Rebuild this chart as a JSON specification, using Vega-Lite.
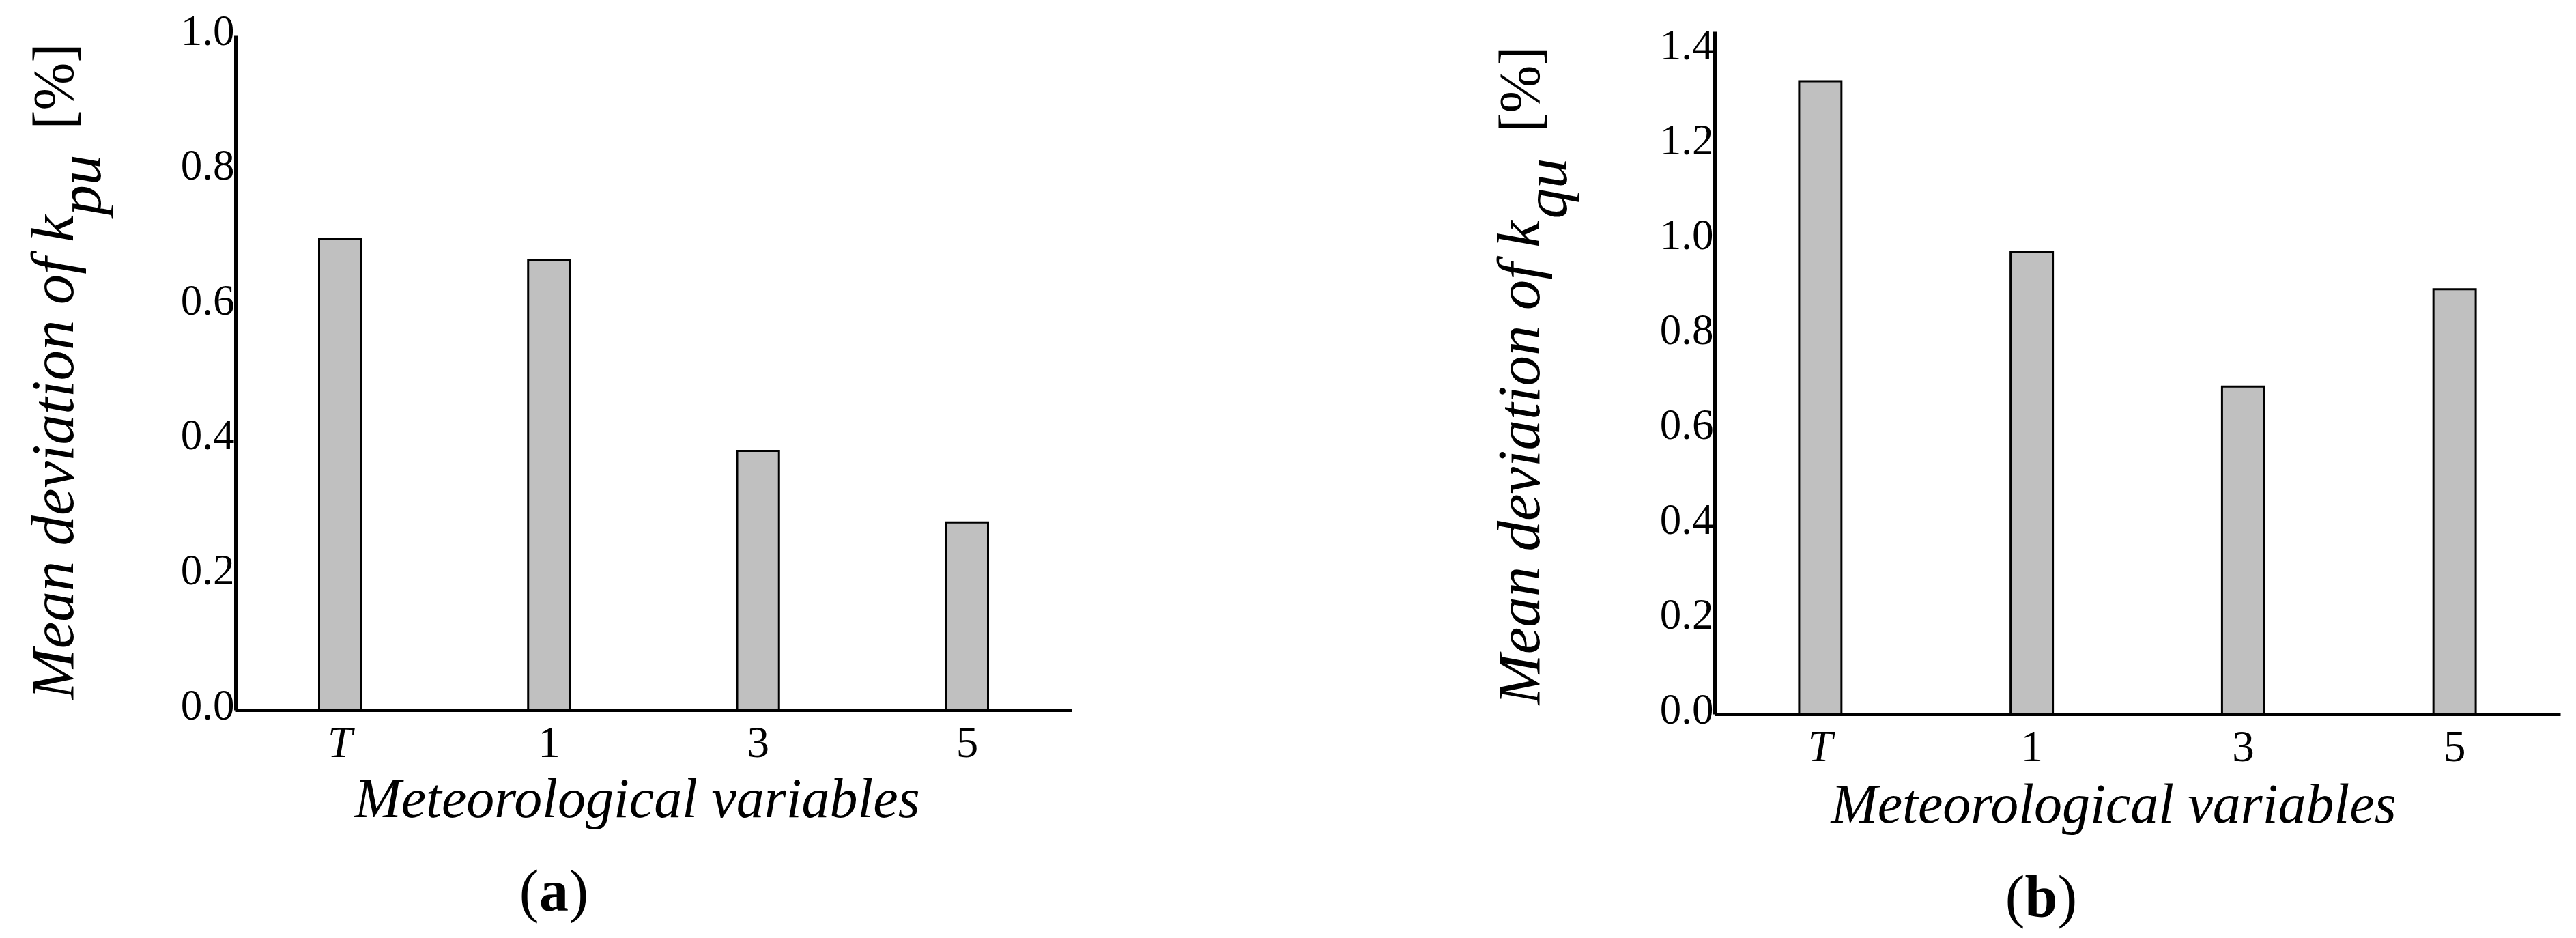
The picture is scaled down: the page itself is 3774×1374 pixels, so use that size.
{
  "$schema": "https://vega.github.io/schema/vega-lite/v6.json",
  "padding": {"left": 34, "top": 15, "right": 10, "bottom": 10},
  "autosize": {"type": "pad"},
  "background": "white",
  "datasets": {
    "a": [
      {"var": "T", "value": 0.699},
      {"var": "1", "value": 0.667},
      {"var": "3", "value": 0.384},
      {"var": "5", "value": 0.278}
    ],
    "b": [
      {"var": "T", "value": 1.335},
      {"var": "1", "value": 0.975},
      {"var": "3", "value": 0.691},
      {"var": "5", "value": 0.896}
    ]
  },
  "hconcat": [
    {
      "width": 1225,
      "height": 988,
      "data": {"name": "a"},
      "layer": [
        {
          "mark": {"type": "bar", "fill": "#c0c0c0", "stroke": "black", "strokeWidth": 3},
          "encoding": {
            "x": {"field": "var", "type": "nominal", "sort": null, "scale": {"paddingInner": 0.8, "paddingOuter": 0.4},
              "axis": {"orient": "bottom", "ticks": false, "tickSize": 0, "labelPadding": 68, "labelBaseline": "alphabetic", "labelAngle": 0,
                "labelFont": "Liberation Serif", "labelFontSize": 65, "labelColor": "black",
                "labelFontStyle": {"condition": {"test": "datum.value === 'T'", "value": "italic"}, "value": "normal"},
                "domainColor": "black", "domainWidth": 5, "grid": false,
                "title": "Meteorological variables", "titleFont": "Liberation Serif", "titleFontStyle": "italic", "titleFontWeight": "normal",
                "titleFontSize": 82, "titleColor": "black", "titleAngle": 0, "titleAlign": "center", "titleBaseline": "alphabetic", "titleX": 588, "titleY": 156}},
            "y": {"field": "value", "type": "quantitative", "scale": {"domain": [0, 1], "nice": false},
              "axis": {"orient": "left", "values": [0, 0.2, 0.4, 0.6, 0.8, 1.0], "format": ".1f", "ticks": false, "tickSize": 0, "labelPadding": 2,
                "labelFont": "Liberation Serif", "labelFontSize": 63, "labelColor": "black", "labelBaseline": "alphabetic", "labelOffset": 13,
                "domainColor": "black", "domainWidth": 5, "grid": false,
                "title": "Mean deviation of k", "titleFont": "Liberation Serif", "titleFontStyle": "italic", "titleFontWeight": "normal",
                "titleFontSize": 89, "titleColor": "black", "titleAngle": 270, "titleAlign": "left", "titleBaseline": "alphabetic", "titleX": -239, "titleY": 972}}
          }
        },
        {
          "mark": {"type": "bar", "opacity": 0},
          "encoding": {
            "x": {"field": "var", "type": "nominal", "sort": null,
              "axis": {"orient": "bottom", "labels": false, "ticks": false, "domain": false, "grid": false,
                "title": "(", "titleFont": "Liberation Serif", "titleFontWeight": "normal", "titleFontSize": 86, "titleColor": "black",
                "titleAngle": 0, "titleAlign": "right", "titleBaseline": "alphabetic", "titleX": 444, "titleY": 293}},
            "y": {"field": "value", "type": "quantitative",
              "axis": {"orient": "left", "labels": false, "ticks": false, "domain": false, "grid": false,
                "title": "pu", "titleFont": "Liberation Serif", "titleFontStyle": "italic", "titleFontWeight": "normal",
                "titleFontSize": 89, "titleColor": "black", "titleAngle": 270, "titleAlign": "left", "titleBaseline": "alphabetic", "titleX": -199, "titleY": 263}}
          }
        },
        {
          "mark": {"type": "bar", "opacity": 0},
          "encoding": {
            "x": {"field": "var", "type": "nominal", "sort": null,
              "axis": {"orient": "bottom", "labels": false, "ticks": false, "domain": false, "grid": false,
                "title": "a", "titleFont": "Liberation Serif", "titleFontWeight": "bold", "titleFontSize": 86, "titleColor": "black",
                "titleAngle": 0, "titleAlign": "center", "titleBaseline": "alphabetic", "titleX": 466, "titleY": 293}},
            "y": {"field": "value", "type": "quantitative",
              "axis": {"orient": "left", "labels": false, "ticks": false, "domain": false, "grid": false,
                "title": "[%]", "titleFont": "Liberation Serif", "titleFontStyle": "normal", "titleFontWeight": "normal",
                "titleFontSize": 84, "titleColor": "black", "titleAngle": 270, "titleAlign": "left", "titleBaseline": "alphabetic", "titleX": -239, "titleY": 137}}
          }
        },
        {
          "mark": {"type": "bar", "opacity": 0},
          "encoding": {
            "x": {"field": "var", "type": "nominal", "sort": null,
              "axis": {"orient": "bottom", "labels": false, "ticks": false, "domain": false, "grid": false,
                "title": ")", "titleFont": "Liberation Serif", "titleFontWeight": "normal", "titleFontSize": 86, "titleColor": "black",
                "titleAngle": 0, "titleAlign": "left", "titleBaseline": "alphabetic", "titleX": 488, "titleY": 293}},
            "y": {"field": "value", "type": "quantitative", "axis": null}
          }
        }
      ],
      "resolve": {"axis": {"x": "independent", "y": "independent"}}
    },
    {
      "width": 1239,
      "height": 1000,
      "data": {"name": "b"},
      "layer": [
        {
          "mark": {"type": "bar", "fill": "#c0c0c0", "stroke": "black", "strokeWidth": 3},
          "encoding": {
            "x": {"field": "var", "type": "nominal", "sort": null, "scale": {"paddingInner": 0.8, "paddingOuter": 0.4},
              "axis": {"orient": "bottom", "ticks": false, "tickSize": 0, "labelPadding": 68, "labelBaseline": "alphabetic", "labelAngle": 0,
                "labelFont": "Liberation Serif", "labelFontSize": 65, "labelColor": "black",
                "labelFontStyle": {"condition": {"test": "datum.value === 'T'", "value": "italic"}, "value": "normal"},
                "domainColor": "black", "domainWidth": 5, "grid": false,
                "title": "Meteorological variables", "titleFont": "Liberation Serif", "titleFontStyle": "italic", "titleFontWeight": "normal",
                "titleFontSize": 82, "titleColor": "black", "titleAngle": 0, "titleAlign": "center", "titleBaseline": "alphabetic", "titleX": 584, "titleY": 158}},
            "y": {"field": "value", "type": "quantitative", "scale": {"domain": [0, 1.44], "nice": false},
              "axis": {"orient": "left", "values": [0, 0.2, 0.4, 0.6, 0.8, 1.0, 1.2, 1.4], "format": ".1f", "ticks": false, "tickSize": 0, "labelPadding": 2,
                "labelFont": "Liberation Serif", "labelFontSize": 63, "labelColor": "black", "labelBaseline": "alphabetic", "labelOffset": 13,
                "domainColor": "black", "domainWidth": 5, "grid": false,
                "title": "Mean deviation of k", "titleFont": "Liberation Serif", "titleFontStyle": "italic", "titleFontWeight": "normal",
                "titleFontSize": 89, "titleColor": "black", "titleAngle": 270, "titleAlign": "left", "titleBaseline": "alphabetic", "titleX": -258, "titleY": 986}}
          }
        },
        {
          "mark": {"type": "bar", "opacity": 0},
          "encoding": {
            "x": {"field": "var", "type": "nominal", "sort": null,
              "axis": {"orient": "bottom", "labels": false, "ticks": false, "domain": false, "grid": false,
                "title": "(", "titleFont": "Liberation Serif", "titleFontWeight": "normal", "titleFontSize": 86, "titleColor": "black",
                "titleAngle": 0, "titleAlign": "right", "titleBaseline": "alphabetic", "titleX": 454, "titleY": 295}},
            "y": {"field": "value", "type": "quantitative",
              "axis": {"orient": "left", "labels": false, "ticks": false, "domain": false, "grid": false,
                "title": "qu", "titleFont": "Liberation Serif", "titleFontStyle": "italic", "titleFontWeight": "normal",
                "titleFontSize": 89, "titleColor": "black", "titleAngle": 270, "titleAlign": "left", "titleBaseline": "alphabetic", "titleX": -218, "titleY": 274}}
          }
        },
        {
          "mark": {"type": "bar", "opacity": 0},
          "encoding": {
            "x": {"field": "var", "type": "nominal", "sort": null,
              "axis": {"orient": "bottom", "labels": false, "ticks": false, "domain": false, "grid": false,
                "title": "b", "titleFont": "Liberation Serif", "titleFontWeight": "bold", "titleFontSize": 86, "titleColor": "black",
                "titleAngle": 0, "titleAlign": "center", "titleBaseline": "alphabetic", "titleX": 478, "titleY": 295}},
            "y": {"field": "value", "type": "quantitative",
              "axis": {"orient": "left", "labels": false, "ticks": false, "domain": false, "grid": false,
                "title": "[%]", "titleFont": "Liberation Serif", "titleFontStyle": "normal", "titleFontWeight": "normal",
                "titleFontSize": 84, "titleColor": "black", "titleAngle": 270, "titleAlign": "left", "titleBaseline": "alphabetic", "titleX": -258, "titleY": 147}}
          }
        },
        {
          "mark": {"type": "bar", "opacity": 0},
          "encoding": {
            "x": {"field": "var", "type": "nominal", "sort": null,
              "axis": {"orient": "bottom", "labels": false, "ticks": false, "domain": false, "grid": false,
                "title": ")", "titleFont": "Liberation Serif", "titleFontWeight": "normal", "titleFontSize": 86, "titleColor": "black",
                "titleAngle": 0, "titleAlign": "left", "titleBaseline": "alphabetic", "titleX": 502, "titleY": 295}},
            "y": {"field": "value", "type": "quantitative", "axis": null}
          }
        }
      ],
      "resolve": {"axis": {"x": "independent", "y": "independent"}}
    }
  ],
  "spacing": 942,
  "bounds": "flush",
  "center": true,
  "config": {
    "view": {"stroke": null},
    "axis": {"grid": false},
    "font": "Liberation Serif"
  }
}
